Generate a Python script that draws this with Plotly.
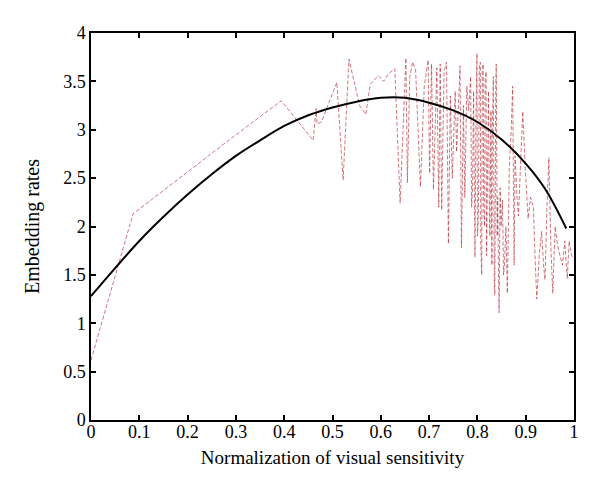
import plotly.graph_objects as go

# fitted curve
fit_x = [0.0, 0.05, 0.1, 0.15, 0.2, 0.25, 0.3, 0.35, 0.4, 0.45, 0.5, 0.55, 0.6, 0.65, 0.7, 0.75,
         0.8, 0.85, 0.9, 0.94, 0.984]
fit_y = [1.28, 1.57, 1.85, 2.10, 2.33, 2.54, 2.73, 2.89, 3.04, 3.15, 3.23, 3.29, 3.33, 3.33, 3.28, 3.20,
         3.08, 2.90, 2.65, 2.39, 1.98]

raw_x = [0.0, 0.087, 0.29, 0.394, 0.46, 0.466, 0.468, 0.477, 0.509, 0.522, 0.534, 0.557, 0.569, 0.578,
         0.595, 0.606, 0.616, 0.629, 0.64, 0.652, 0.655, 0.660, 0.666, 0.672, 0.682, 0.690, 0.698, 0.701,
         0.705, 0.709, 0.716, 0.720, 0.723, 0.726, 0.731, 0.736, 0.740, 0.744, 0.748, 0.754, 0.757, 0.761,
         0.764, 0.767, 0.771, 0.774, 0.778, 0.782,
         0.786, 0.788, 0.790, 0.792, 0.795, 0.797, 0.799, 0.800, 0.802, 0.804, 0.806, 0.807, 0.809, 0.810,
         0.812, 0.813, 0.815, 0.816, 0.818, 0.819, 0.821, 0.822, 0.823, 0.825, 0.826, 0.828, 0.830, 0.831,
         0.833, 0.835, 0.836, 0.838, 0.839, 0.841, 0.842, 0.844, 0.845, 0.847, 0.849, 0.852, 0.854, 0.856,
         0.859, 0.862, 0.866, 0.870, 0.873, 0.876, 0.878, 0.882, 0.885, 0.889, 0.894, 0.899, 0.905, 0.910,
         0.916, 0.920, 0.923, 0.928, 0.933, 0.937, 0.940, 0.944, 0.948, 0.952, 0.956, 0.961, 0.966, 0.971,
         0.976, 0.981, 0.986, 0.990, 0.995, 1.0]
raw_y = [0.62, 2.13, 2.91, 3.30, 2.89, 3.22, 3.06, 3.08, 3.49, 2.48, 3.73, 3.24, 3.16, 3.47,
         3.56, 3.50, 3.58, 3.63, 2.24, 3.74, 2.45, 3.55, 3.70, 3.62, 2.41, 3.45, 3.72, 2.55,
         3.68, 2.38, 3.64, 2.20, 3.68, 2.17, 3.60, 3.70, 1.82, 3.35, 2.50, 3.40, 2.77, 3.30,
         3.66, 1.78, 3.25, 2.30, 3.45, 3.20,
         3.55, 2.20, 2.40, 3.40, 1.68, 3.10, 3.79, 1.90, 2.10, 3.65, 3.70, 1.80, 1.50, 3.60,
         3.68, 2.20, 2.00, 3.50, 3.60, 1.70, 2.60, 3.30, 3.40, 2.00, 1.90, 3.20, 1.60, 3.00,
         3.55, 1.40, 1.29, 3.40, 3.68, 1.90, 2.30, 1.40, 1.11, 2.40, 2.00, 2.27, 1.50, 1.60,
         2.00, 1.31, 2.60, 3.00, 3.45, 1.60, 2.73, 2.30, 2.11, 2.60, 3.19, 2.60, 2.08, 2.30,
         2.20, 1.60, 1.25, 1.70, 1.95, 1.60, 1.45, 2.20, 2.71, 1.80, 1.31, 2.00, 1.80, 1.70,
         1.60, 1.85, 1.46, 1.85, 1.70, 1.67]

x_ticks = [0, 0.1, 0.2, 0.3, 0.4, 0.5, 0.6, 0.7, 0.8, 0.9, 1]
y_ticks = [0, 0.5, 1, 1.5, 2, 2.5, 3, 3.5, 4]

FONT = "Liberation Serif"

fig = go.Figure()
fig.add_trace(go.Scatter(x=raw_x, y=raw_y, mode="lines",
                         line=dict(color="rgba(185,45,55,0.65)", width=1, dash="4px,2px"),
                         showlegend=False))
fig.add_trace(go.Scatter(x=fit_x, y=fit_y, mode="lines",
                         line=dict(color="black", width=2, shape="spline", smoothing=1.0),
                         showlegend=False))

axis_common = dict(showline=True, linecolor="black", linewidth=1.5, mirror="ticks",
                   ticks="inside", ticklen=5, tickwidth=1.5, tickcolor="black",
                   showgrid=False, zeroline=False,
                   tickfont=dict(family=FONT, size=18, color="black"))

fig.update_layout(
    width=592, height=483,
    margin=dict(l=83, r=26, t=25, b=71),
    paper_bgcolor="white", plot_bgcolor="white",
    font=dict(family=FONT, size=18, color="black"),
    xaxis=dict(range=[0, 1], tickvals=x_ticks, ticktext=[str(v) for v in x_ticks],
               ticklabelstandoff=-5,
               title=dict(text="Normalization of visual sensitivity", standoff=9,
                          font=dict(family=FONT, size=19)),
               **axis_common),
    yaxis=dict(range=[0, 4], tickvals=y_ticks, ticktext=[str(v) for v in y_ticks],
               title=dict(text="Embedding rates", standoff=18,
                          font=dict(family=FONT, size=20)),
               **axis_common),
)

fig.write_html("out.html")
